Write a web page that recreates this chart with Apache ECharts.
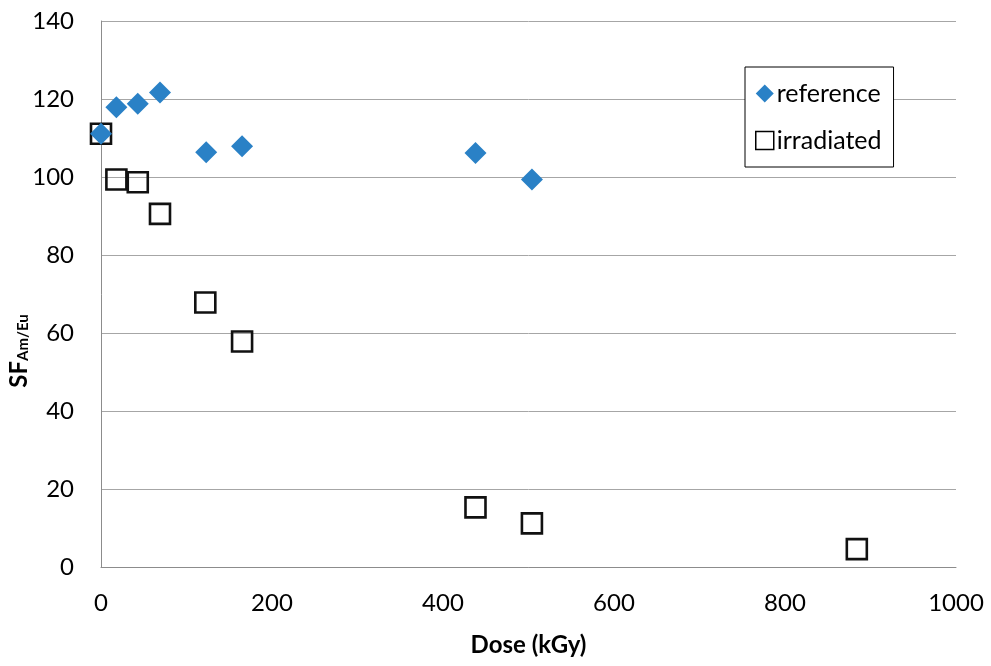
<!DOCTYPE html>
<html>
<head>
<meta charset="utf-8">
<script src="https://cdn.jsdelivr.net/npm/echarts@6/dist/echarts.min.js"></script>
<style>html,body{margin:0;padding:0;background:#fff;}#c{width:991px;height:666px;}</style>
</head>
<body>
<div id="c"></div>
<script>
const refDose = [0, 18, 43, 69, 123, 165, 438, 504];
const refSF = [111.1, 117.9, 118.8, 121.7, 106.4, 107.9, 106.2, 99.4];
const irrDose = [0, 18, 43, 69, 122, 165, 438, 504, 884];
const irrSF = [111.1, 99.4, 98.7, 90.6, 67.9, 57.9, 15.4, 11.3, 4.7];
const seriesNames = ['reference', 'irradiated'];
const xTitle = 'Dose (kGy)';

const FONT = 'Lato, "Open Sans", sans-serif';
const chart = echarts.init(document.getElementById('c'));
chart.setOption({
  animation: false,
  backgroundColor: '#fff',
  textStyle: { fontFamily: FONT, color: '#000' },
  grid: { left: 101, right: 35, top: 21, bottom: 98.5 },
  xAxis: {
    type: 'value', min: 0, max: 1000, interval: 200,
    name: xTitle, nameLocation: 'middle', nameGap: 66,
    nameTextStyle: { fontFamily: FONT, fontSize: 24, fontWeight: 'bold', color: '#000' },
    axisLine: { show: true, onZero: false, lineStyle: { color: '#8c8c8c', width: 1 } },
    axisTick: { show: false },
    axisLabel: { fontFamily: FONT, fontSize: 24, color: '#000', margin: 24, formatter: v => String(v) },
    splitLine: { show: false }
  },
  yAxis: {
    type: 'value', min: 0, max: 140, interval: 20,
    axisLine: { show: true, lineStyle: { color: '#8c8c8c', width: 1 } },
    axisTick: { show: false },
    axisLabel: { fontFamily: FONT, fontSize: 24, color: '#000', margin: 27, formatter: v => String(v) },
    splitLine: { show: true, lineStyle: { color: '#a6a6a6', width: 1 } }
  },
  graphic: [{
    type: 'text', x: 19, y: 351, rotation: Math.PI / 2,
    style: {
      text: '{a|SF}{b|Am/Eu}', align: 'center', verticalAlign: 'middle',
      rich: {
        a: { fontFamily: FONT, fontSize: 24, fontWeight: 'bold', fill: '#000', verticalAlign: 'bottom' },
        b: { fontFamily: FONT, fontSize: 15, fontWeight: 'bold', fill: '#000', verticalAlign: 'bottom' }
      }
    }
  }],
  legend: {
    orient: 'vertical', left: 745, top: 67,
    backgroundColor: '#fff', borderColor: '#000', borderWidth: 1,
    padding: [14, 12, 14, 10], itemGap: 22, itemWidth: 18, itemHeight: 18,
    textStyle: { fontFamily: FONT, fontSize: 25, color: '#000', padding: [0, 0, 0, -2] },
    data: [
      { name: seriesNames[0] },
      { name: seriesNames[1], itemStyle: { borderWidth: 1.5, borderColor: '#000', color: 'rgba(0,0,0,0)' } }
    ]
  },
  series: [
    {
      name: seriesNames[1], type: 'scatter', clip: false, z: 2,
      symbol: 'rect', symbolSize: 20,
      itemStyle: { color: 'rgba(255,255,255,0)', borderColor: '#111', borderWidth: 2.6, opacity: 1 },
      data: irrDose.map((d, i) => [d, irrSF[i]])
    },
    {
      name: seriesNames[0], type: 'scatter', clip: false, z: 3,
      symbol: 'diamond', symbolSize: 22,
      itemStyle: { color: '#2a81c6', opacity: 1 },
      data: refDose.map((d, i) => [d, refSF[i]])
    }
  ]
});
</script>
</body>
</html>
